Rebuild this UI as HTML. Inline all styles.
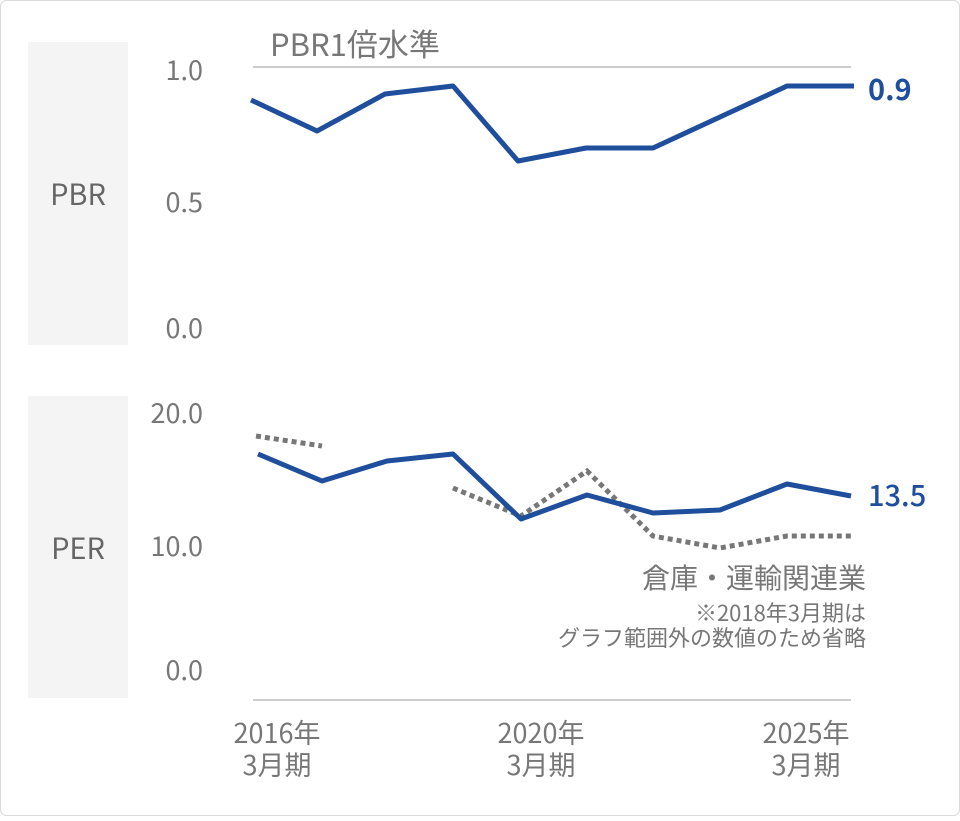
<!DOCTYPE html>
<html><head><meta charset="utf-8"><style>
html,body{margin:0;padding:0;background:#fff;}
svg text{font-family:"Noto Sans CJK JP","Liberation Sans",sans-serif;}
</style></head><body>
<svg width="960" height="816" viewBox="0 0 960 816" xmlns="http://www.w3.org/2000/svg">
<rect x="0.5" y="0.5" width="959" height="815" rx="6" fill="#fff" stroke="#d9d9d9"/>
<rect x="28" y="42" width="100" height="303" fill="#f4f4f4"/>
<rect x="28" y="396" width="100" height="302" fill="#f4f4f4"/>
<text x="78" y="205" font-size="29" fill="#666" text-anchor="middle">PBR</text>
<text x="78" y="559" font-size="29" fill="#666" text-anchor="middle">PER</text>
<g font-size="27" fill="#777" text-anchor="end">
<text x="203" y="80">1.0</text>
<text x="203" y="212">0.5</text>
<text x="203" y="338">0.0</text>
<text x="203" y="423">20.0</text>
<text x="203" y="556">10.0</text>
<text x="203" y="680">0.0</text>
</g>
<line x1="253" y1="67" x2="851" y2="67" stroke="#bbb" stroke-width="1.5"/>
<text x="270" y="56" font-size="31" fill="#777">PBR1倍水準</text>
<line x1="253" y1="700" x2="851" y2="700" stroke="#bbb" stroke-width="1.5"/>
<polyline fill="none" stroke="#1f4e9c" stroke-width="5" stroke-linejoin="round" points="251,100 317,131 385,94 453,86 518,161 586,148 653,148 720,117 787,86 854,86"/>
<text x="868" y="100" font-size="29" font-weight="bold" fill="#1f4e9c">0.9</text>
<g fill="none" stroke="#777" stroke-width="5" stroke-dasharray="5,4">
<polyline points="256,436 322,446"/>
<polyline points="453,488 521,516 587,471 653,536 720,548 787,536 851,536"/>
</g>
<polyline fill="none" stroke="#1f4e9c" stroke-width="5" stroke-linejoin="round" points="258,454 322,481 387,461 453,454 521,519 587,495 653,513 720,510 787,484 851,496"/>
<text x="868" y="506" font-size="29" font-weight="500" fill="#1f4e9c">13.5</text>
<g fill="#777" text-anchor="end">
<text x="866" y="588" font-size="28">倉庫・運輸関連業</text>
<text x="866" y="621" font-size="22">※2018年3月期は</text>
<text x="866" y="646" font-size="22">グラフ範囲外の数値のため省略</text>
</g>
<g font-size="27" fill="#777" text-anchor="middle">
<text x="277" y="743">2016年</text><text x="277" y="775">3月期</text>
<text x="541" y="743">2020年</text><text x="541" y="775">3月期</text>
<text x="806" y="743">2025年</text><text x="806" y="775">3月期</text>
</g>
</svg>
</body></html>
